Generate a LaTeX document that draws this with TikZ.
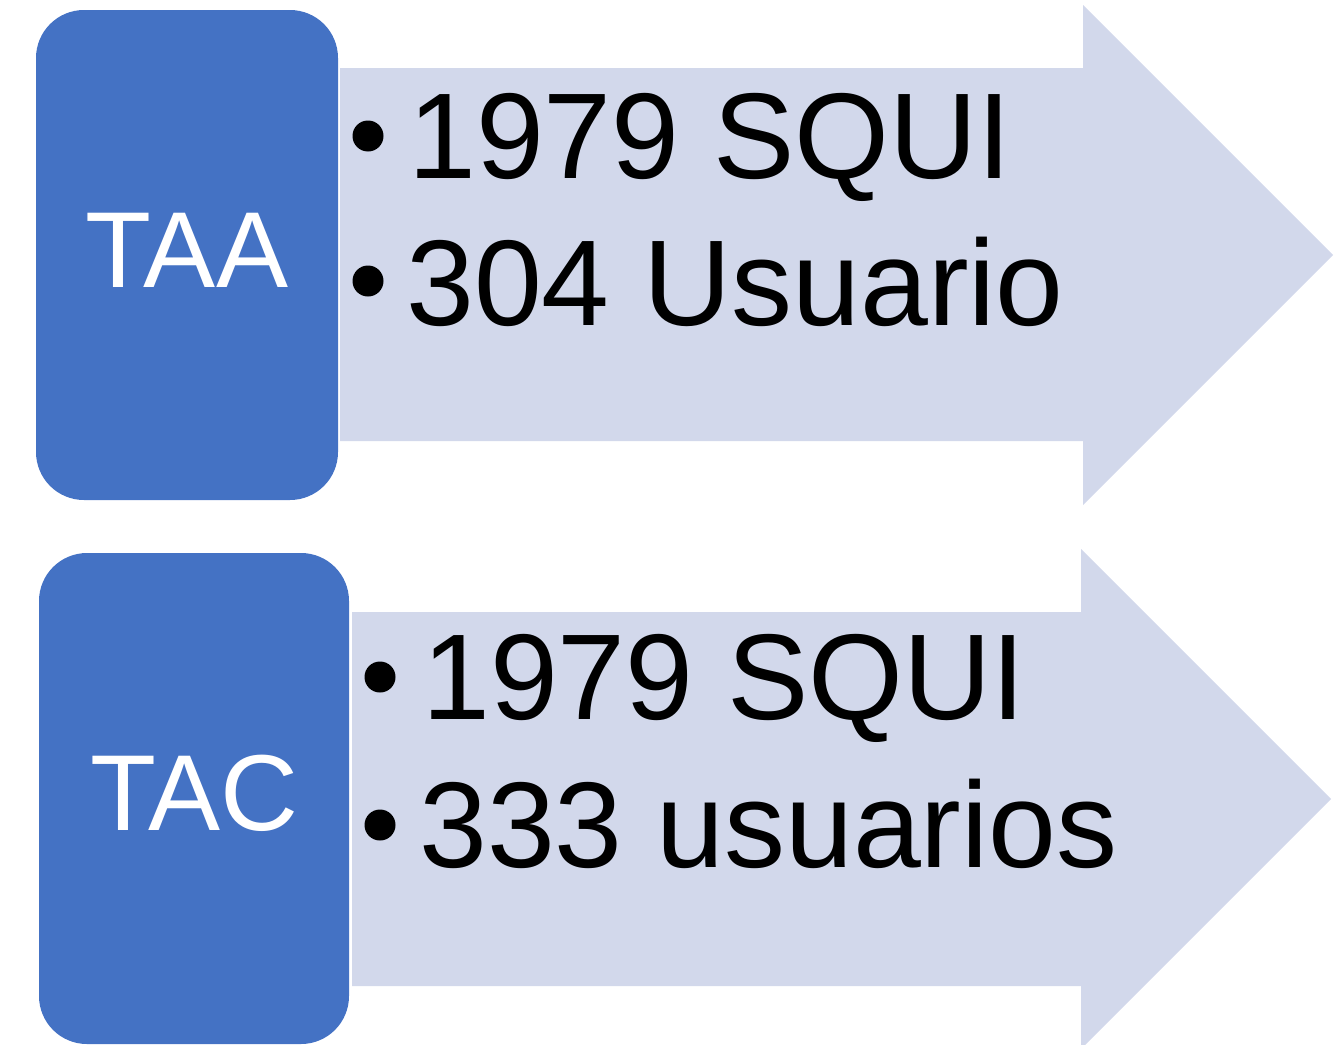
\documentclass[tikz,border=0pt]{standalone}
\usepackage{fontspec}
\setmainfont{Liberation Sans}
\begin{document}
\begin{tikzpicture}[x=1pt, y=-1pt]
        \tikzset{
            box/.style    = {fill=boxblue, rounded corners=48pt, inner sep=0pt},
            boxtext/.style = {text=white, inner sep=0pt, yshift=5pt,
                             font=\fontsize{108}{108}\selectfont},
            arrowbg/.style = {fill=arrowgrey},
            item/.style   = {anchor=base west, inner sep=0pt, font=\fontsize{122}{122}\selectfont},
            dot/.style    = {circle, fill=black, inner sep=0pt, minimum size=31pt}
        }
        \definecolor{boxblue}{HTML}{4472C4}
        \definecolor{arrowgrey}{HTML}{D2D8EB}
        \useasboundingbox (0,0) rectangle (1337,1044);
        \begin{scope}
            \clip (0,0) rectangle (1337,1044);
            \fill[arrowbg] (340,68) -- (1083,68) -- (1083,5) -- (1333,255) -- (1083,505)
                -- (1083,441) -- (340,441) -- cycle;
            \fill[arrowbg] (352,612) -- (1081,612) -- (1081,549) -- (1331,799) -- (1081,1049)
                -- (1081,986) -- (352,986) -- cycle;

            \node[box, minimum width=302pt, minimum height=490pt] (TAA) at (187,255) {};
            \node[box, minimum width=310pt, minimum height=491pt] (TAC) at (194,798.5) {};
        \end{scope}
        \node[boxtext] (TAAlabel) at (TAA.center) {TAA};
        \node[boxtext] (TAClabel) at (TAC.center) {TAC};

        \node[dot] (D1) at (368,136) {};
        \node[item] (L1) at (408,178) {1979 SQUI};
        \node[dot] (D2) at (368,281) {};
        \node[item] (L2) at (406,325) {304 Usuario};

        \node[dot] (D3) at (380,677) {};
        \node[item] (L3) at (422,719) {1979 SQUI};
        \node[dot] (D4) at (380,825) {};
        \node[item] (L4) at (419,867) {333 usuarios};
    \end{tikzpicture}
\end{document}
